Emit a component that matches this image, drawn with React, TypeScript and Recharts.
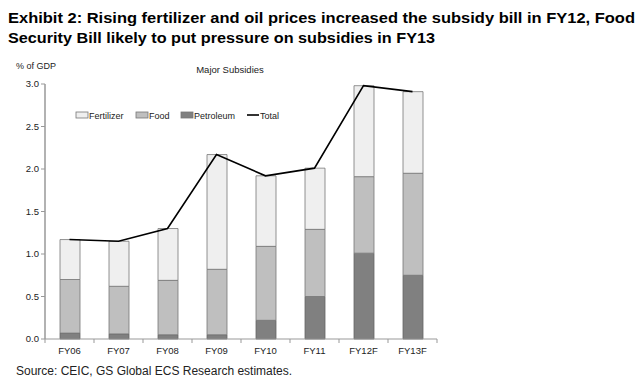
import React from 'react';
import { ComposedChart, Bar, Line, XAxis, YAxis } from 'recharts';

const categories = ['FY06', 'FY07', 'FY08', 'FY09', 'FY10', 'FY11', 'FY12F', 'FY13F'];
const petroleum = [0.07, 0.06, 0.05, 0.05, 0.22, 0.5, 1.01, 0.75];
const food = [0.63, 0.56, 0.64, 0.77, 0.87, 0.79, 0.9, 1.2];
const fertilizer = [0.47, 0.53, 0.61, 1.35, 0.83, 0.72, 1.07, 0.96];
const total = [1.17, 1.15, 1.3, 2.17, 1.92, 2.01, 2.98, 2.91];
const yTicks = [0, 0.5, 1, 1.5, 2, 2.5, 3];

const titleLine1 = 'Exhibit 2: Rising fertilizer and oil prices increased the subsidy bill in FY12, Food';
const titleLine2 = 'Security Bill likely to put pressure on subsidies in FY13';
const yLabel = '% of GDP';
const chartTitle = 'Major Subsidies';
const source = 'Source: CEIC, GS Global ECS Research estimates.';

const COLORS = { fertilizer: '#efefef', food: '#bfbfbf', petroleum: '#808080', total: '#000000' };
const legendItems = [
  { name: 'Fertilizer', color: COLORS.fertilizer, type: 'rect', x: 76 },
  { name: 'Food', color: COLORS.food, type: 'rect', x: 136 },
  { name: 'Petroleum', color: COLORS.petroleum, type: 'rect', x: 181 },
  { name: 'Total', color: COLORS.total, type: 'line', x: 247 },
];

const data = categories.map((c, i) => ({
  name: c,
  petroleum: petroleum[i],
  food: food[i],
  fertilizer: fertilizer[i],
  total: total[i],
}));

const W = 643;
const H = 387;
const xAxisH = 20;
const margin = { top: 84, right: 206, bottom: 48 - xAxisH, left: 0 };
const yAxisW = 45;
const font = 'Arial, "Liberation Sans", Helvetica, sans-serif';
const bandW = (W - margin.right - yAxisW) / categories.length;

const XTick = (props: any) => {
  const { x, y, payload, index } = props;
  return (
    <g>
      <line x1={x - bandW / 2} x2={x - bandW / 2} y1={y} y2={y + 4} stroke="#999" strokeWidth={1} />
      {index === categories.length - 1 && (
        <line x1={x + bandW / 2} x2={x + bandW / 2} y1={y} y2={y + 4} stroke="#999" strokeWidth={1} />
      )}
      <text x={x} y={y + 15} textAnchor="middle" fontSize={9.5} fontFamily={font} fill="#222">
        {payload.value}
      </text>
    </g>
  );
};

export default function App() {
  return (
    <div style={{ position: 'absolute', left: 0, top: 0, width: W, height: H, background: '#fff' }}>
      <ComposedChart
        width={W}
        height={H}
        data={data}
        margin={margin}
        barCategoryGap={0}
        style={{ position: 'absolute', left: 0, top: 0 }}
      >
        <XAxis
          dataKey="name"
          height={xAxisH}
          axisLine={{ stroke: '#999', strokeWidth: 1 }}
          tickLine={false}
          tickSize={0}
          tickMargin={0}
          tick={<XTick />}
          interval={0}
        />
        <YAxis
          width={yAxisW}
          domain={[0, 3]}
          ticks={yTicks}
          tickFormatter={(v: number) => v.toFixed(1)}
          axisLine={{ stroke: '#999', strokeWidth: 1.5 }}
          tickLine={{ stroke: '#999' }}
          tickSize={4}
          tick={{ fontSize: 9.5, fontFamily: font, fill: '#222' }}
          interval={0}
        />
        <Bar dataKey="petroleum" stackId="s" fill={COLORS.petroleum} stroke="#666" strokeWidth={0.8} barSize={20} isAnimationActive={false} />
        <Bar dataKey="food" stackId="s" fill={COLORS.food} stroke="#777" strokeWidth={0.8} barSize={20} isAnimationActive={false} />
        <Bar dataKey="fertilizer" stackId="s" fill={COLORS.fertilizer} stroke="#777" strokeWidth={0.8} barSize={20} isAnimationActive={false} />
        <Line dataKey="total" type="linear" stroke={COLORS.total} strokeWidth={1.6} dot={false} isAnimationActive={false} />
      </ComposedChart>
      <svg width={W} height={H} style={{ position: 'absolute', left: 0, top: 0, pointerEvents: 'none' }}>
        <text x={8} y={23} fontSize={15} fontWeight="bold" fontFamily={font} fill="#000" textLength={627} lengthAdjust="spacingAndGlyphs">
          {titleLine1}
        </text>
        <text x={8} y={43} fontSize={15} fontWeight="bold" fontFamily={font} fill="#000" textLength={427} lengthAdjust="spacingAndGlyphs">
          {titleLine2}
        </text>
        <text x={16} y={69} fontSize={9} fontFamily={font} fill="#222">{yLabel}</text>
        <text x={230} y={73} textAnchor="middle" fontSize={9.5} fontFamily={font} fill="#222">{chartTitle}</text>
        {legendItems.map((it) => (
          <g key={it.name}>
            {it.type === 'rect' ? (
              <rect x={it.x} y={112} width={12} height={6} fill={it.color} stroke="#777" strokeWidth={0.8} />
            ) : (
              <line x1={it.x} x2={it.x + 12} y1={115} y2={115} stroke={it.color} strokeWidth={1.6} />
            )}
            <text x={it.x + 13} y={118.5} fontSize={9} fontFamily={font} fill="#222">{it.name}</text>
          </g>
        ))}
        <text x={16} y={375} fontSize={12} fontFamily={font} fill="#222">{source}</text>
      </svg>
    </div>
  );
}
